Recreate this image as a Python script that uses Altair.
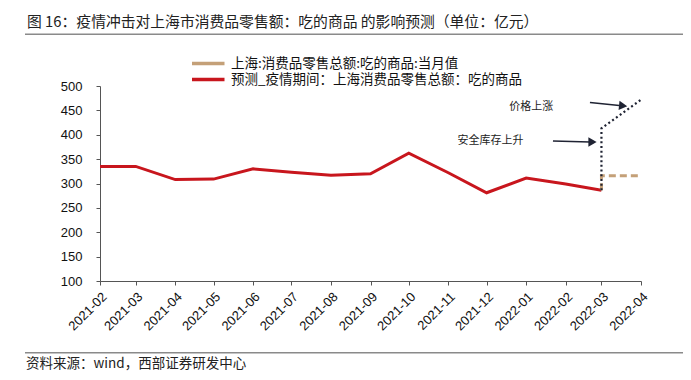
import altair as alt
import pandas as pd

# ---------------- data ----------------
months = ["2021-02", "2021-03", "2021-04", "2021-05", "2021-06", "2021-07", "2021-08",
          "2021-09", "2021-10", "2021-11", "2021-12", "2022-01", "2022-02", "2022-03"]
forecast_values = [335, 335, 308, 309, 330, 323, 317, 320, 362, 322, 281, 311, 299, 286]

actual_months = ["2022-03", "2022-03", "2022-04"]
actual_values = [286, 316, 316]

scenario_months = ["2022-03", "2022-03", "2022-04"]
scenario_values = [286, 413, 472]

series_names = ["上海:消费品零售总额:吃的商品:当月值", "预测_疫情期间：上海消费品零售总额：吃的商品"]
series_colors = ["#C4A078", "#C8161D"]

y_ticks = [100, 150, 200, 250, 300, 350, 400, 450, 500]

anno_texts = ["安全库存上升", "价格上涨"]
anno_dates = ["2021-12-04", "2022-01-05"]
anno_values = [387, 457]

arrow_start_dates = ["2022-01-22", "2022-02-20"]
arrow_start_values = [387, 466]
arrow_end_dates = ["2022-02-20", "2022-03-15"]
arrow_end_values = [385, 460]
head_dates = ["2022-02-22", "2022-03-18"]
head_values = [385, 459.5]
head_angles = [0, 5.5]

title_text = "图 16：疫情冲击对上海市消费品零售额：吃的商品 的影响预测（单位：亿元）"
source_text = "资料来源：wind，西部证券研发中心"

CJK = "Noto Sans CJK SC"
W, H = 541, 195


def d(m):
    return m + "-01"


red_df = pd.DataFrame({
    "date": [d(m) for m in months],
    "value": forecast_values,
    "series": series_names[1],
    "ord": list(range(len(months))),
})
tan_df = pd.DataFrame({
    "date": [d(m) for m in actual_months],
    "value": actual_values,
    "series": series_names[0],
    "ord": list(range(len(actual_months))),
})
dot_df = pd.DataFrame({
    "date": [d(m) for m in scenario_months],
    "value": scenario_values,
    "ord": list(range(len(scenario_months))),
})
anno_df = pd.DataFrame({"date": anno_dates, "value": anno_values, "label": anno_texts})
arrow_df = pd.DataFrame({
    "date": arrow_start_dates, "value": arrow_start_values,
    "date2": arrow_end_dates, "value2": arrow_end_values,
})
head_df = pd.DataFrame({"date": head_dates, "value": head_values, "angle": head_angles})

x_scale = alt.Scale(type="utc", nice=False)
y_scale = alt.Scale(domain=[100, 500], nice=False, zero=False)

x_axis = alt.Axis(
    title=None, format="%Y-%m", tickCount={"interval": "month", "step": 1},
    labelAngle=-45, labelFontSize=13, labelFont="Liberation Sans", labelColor="#111",
    domainColor="#555", tickColor="#555", tickSize=4, labelPadding=5, grid=False,
    labelOverlap=False, labelFlush=False,
)
y_axis = alt.Axis(
    title=None, values=y_ticks, tickCount=len(y_ticks), labelFontSize=13,
    labelFont="Liberation Sans", labelColor="#111", domainColor="#555",
    tickColor="#555", tickSize=4, labelPadding=14, grid=False,
    labelOverlap=False, labelFlush=False,
)

X = alt.X("date:T", scale=x_scale, axis=x_axis)
Y = alt.Y("value:Q", scale=y_scale, axis=y_axis)

color = alt.Color(
    "series:N",
    scale=alt.Scale(domain=series_names, range=series_colors),
    legend=alt.Legend(
        title=None, orient="none", legendX=90, legendY=-31, direction="vertical",
        symbolType="M-2.5,0H2.5", symbolSize=169, symbolStrokeWidth=3.5,
        symbolOffset=9.75, labelOffset=14.25,
        labelFont=CJK, labelFontSize=13.5, labelColor="#111", labelLimit=0,
        rowPadding=0, padding=0, symbolDash=[1, 0],
    ),
)

red = alt.Chart(red_df).mark_line(strokeWidth=3).encode(
    x=X, y=Y, color=color, order="ord:Q",
)
tan = alt.Chart(tan_df).mark_line(strokeWidth=3, strokeDash=[7, 4]).encode(
    x=X, y=Y, color=color, order="ord:Q",
)
dots = alt.Chart(dot_df).mark_line(strokeWidth=2.2, strokeDash=[2, 2.7], color="#1F2333").encode(
    x=X, y=Y, order="ord:Q",
)
anno = alt.Chart(anno_df).mark_text(font=CJK, fontSize=11, color="#222", align="center",
                                     baseline="middle").encode(
    x=X, y=Y, text="label:N",
)
arrows = alt.Chart(arrow_df).mark_rule(strokeWidth=1.5, color="#1F2333").encode(
    x=X, y=Y, x2="date2:T", y2="value2:Q",
)
heads = alt.Chart(head_df).mark_point(shape="triangle-right", filled=True, size=90,
                                      color="#1F2333", opacity=1).encode(
    x=X, y=Y, angle=alt.Angle("angle:Q", scale=None),
)

one = pd.DataFrame({"k": [0]})
title = alt.Chart(pd.DataFrame({"t": [title_text]})).mark_text(
    font=CJK, fontSize=14.8, color="#222", align="left", baseline="middle").encode(
    x=alt.value(-73), y=alt.value(-63.5), text="t:N")
top_line = alt.Chart(one).mark_rule(color="#8a8a8a", strokeWidth=1.5).encode(
    x=alt.value(-75), x2=alt.value(591), y=alt.value(-51.7))
bottom_line = alt.Chart(one).mark_rule(color="#8a8a8a", strokeWidth=1.5).encode(
    x=alt.value(-75), x2=alt.value(591), y=alt.value(266.7))
source = alt.Chart(pd.DataFrame({"t": [source_text]})).mark_text(
    font=CJK, fontSize=13.5, color="#222", align="left", baseline="middle").encode(
    x=alt.value(-74), y=alt.value(278), text="t:N")

chart = alt.layer(
    red, tan, dots, arrows, heads, anno, title, top_line, bottom_line, source
).properties(
    width=W, height=H,
    autosize=alt.AutoSizeParams(type="none"),
    padding={"left": 92, "top": 78, "right": 42, "bottom": 91},
    background="white",
).configure_view(stroke=None)

chart.save("out.html", embed_options={"renderer": "svg", "actions": False})
